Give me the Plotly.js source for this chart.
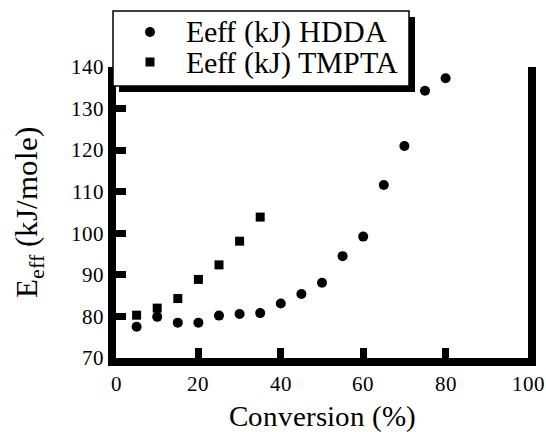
<!DOCTYPE html>
<html><head><meta charset="utf-8">
<script src="https://cdn.plot.ly/plotly-3.0.1.min.js"></script>
<style>
@font-face { font-family: 'RefSerif'; src: local('Liberation Serif'), local('LiberationSerif'), local('LiberationSerif-Regular'), local('Times New Roman'); }
html,body{margin:0;padding:0;background:#fff}
</style>
</head><body>
<div id="chart" style="width:546px;height:432px"></div>
<script>
const conversionHDDA = [5, 10, 15, 20, 25, 30, 35, 40, 45, 50, 55, 60, 65, 70, 75, 80];
const eeffHDDA = [77.5, 79.9, 78.5, 78.5, 80.2, 80.6, 80.8, 83.1, 85.4, 88.1, 94.5, 99.2, 111.6, 121.0, 134.3, 137.3];
const conversionTMPTA = [5, 10, 15, 20, 25, 30, 35];
const eeffTMPTA = [80.3, 82.0, 84.3, 88.9, 92.4, 98.1, 103.9];
const xTickVals = [0, 20, 40, 60, 80, 100];
const yTickVals = [70, 80, 90, 100, 110, 120, 130, 140];
const seriesNames = ['Eeff (kJ) HDDA', 'Eeff (kJ) TMPTA'];

const serif = 'RefSerif, Liberation Serif, Times New Roman, serif';
const W = 546, H = 432;
const M = {l: 116, r: 18, t: 67, b: 74, autoexpand: false};
const PW = W - M.l - M.r, PH = H - M.t - M.b;
// pixel -> paper helpers for the legend box
const pxX = function (v) { return (v - M.l) / PW; };
const pxY = function (v) { return (H - M.b - v) / PH; };

const traces = [
  {x: conversionHDDA, y: eeffHDDA, name: seriesNames[0], type: 'scatter', mode: 'markers',
   marker: {symbol: 'circle', size: 10, color: '#000'}, cliponaxis: false, showlegend: false},
  {x: conversionTMPTA, y: eeffTMPTA, name: seriesNames[1], type: 'scatter', mode: 'markers',
   marker: {symbol: 'square', size: 9, color: '#000'}, cliponaxis: false, showlegend: false}
];

const axisCommon = {
  showgrid: false, zeroline: false, showline: true, linecolor: '#000', linewidth: 8,
  ticks: 'inside', ticklen: 10, tickwidth: 7, tickcolor: '#000', tickangle: 0,
  tickfont: {family: serif, size: 21, color: '#000'}
};

// legend key: framed box with drop shadow
const box = {l: 113, t: 11, r: 409, b: 86, shadow: 6};
const keyX = 150, textX = 185, rowY = [32, 62];

const shapes = [
  {type: 'rect', xref: 'paper', yref: 'paper', layer: 'above',
   x0: pxX(box.l + box.shadow), x1: pxX(box.r + box.shadow), y0: pxY(box.t + box.shadow), y1: pxY(box.b + box.shadow),
   fillcolor: '#000', line: {width: 0}},
  {type: 'rect', xref: 'paper', yref: 'paper', layer: 'above',
   x0: pxX(box.l), x1: pxX(box.r), y0: pxY(box.t), y1: pxY(box.b),
   fillcolor: '#fff', line: {color: '#000', width: 1.5}},
  {type: 'circle', xref: 'paper', yref: 'paper', layer: 'above', xsizemode: 'pixel', ysizemode: 'pixel',
   xanchor: pxX(keyX), yanchor: pxY(rowY[0]), x0: -5, x1: 5, y0: -5, y1: 5,
   fillcolor: '#000', line: {width: 0}},
  {type: 'rect', xref: 'paper', yref: 'paper', layer: 'above', xsizemode: 'pixel', ysizemode: 'pixel',
   xanchor: pxX(keyX), yanchor: pxY(rowY[1]), x0: -4.5, x1: 4.5, y0: -4.5, y1: 4.5,
   fillcolor: '#000', line: {width: 0}}
];

const annotations = seriesNames.map(function (name, i) {
  return {text: name, xref: 'paper', yref: 'paper', x: pxX(textX), y: pxY(rowY[i]),
    xanchor: 'left', yanchor: 'middle', showarrow: false, borderpad: 0,
    font: {family: serif, size: 30, color: '#000'}};
});

const layout = {
  width: W, height: H, margin: M,
  paper_bgcolor: '#fff', plot_bgcolor: '#fff',
  font: {family: serif, color: '#000'},
  showlegend: false,
  xaxis: Object.assign({}, axisCommon, {
    range: [0, 100], tickvals: xTickVals, ticktext: xTickVals.map(String),
    title: {text: 'Conversion (%)', font: {family: serif, size: 29, color: '#000'}}
  }),
  yaxis: Object.assign({}, axisCommon, {
    range: [70, 140], tickvals: yTickVals, ticktext: yTickVals.map(String), mirror: true,
    title: {text: 'E<sub>eff</sub> (kJ/mole)\u00a0\u00a0\u00a0\u00a0\u00a0', font: {family: serif, size: 31, color: '#000'}}
  }),
  shapes: shapes,
  annotations: annotations
};

function draw() {
  Plotly.newPlot('chart', traces, layout, {displayModeBar: false, staticPlot: true});
}
if (document.fonts && document.fonts.load) {
  Promise.all([document.fonts.load('30px RefSerif'), document.fonts.load('21px RefSerif')])
    .then(draw, draw);
} else {
  draw();
}
</script>
</body></html>
